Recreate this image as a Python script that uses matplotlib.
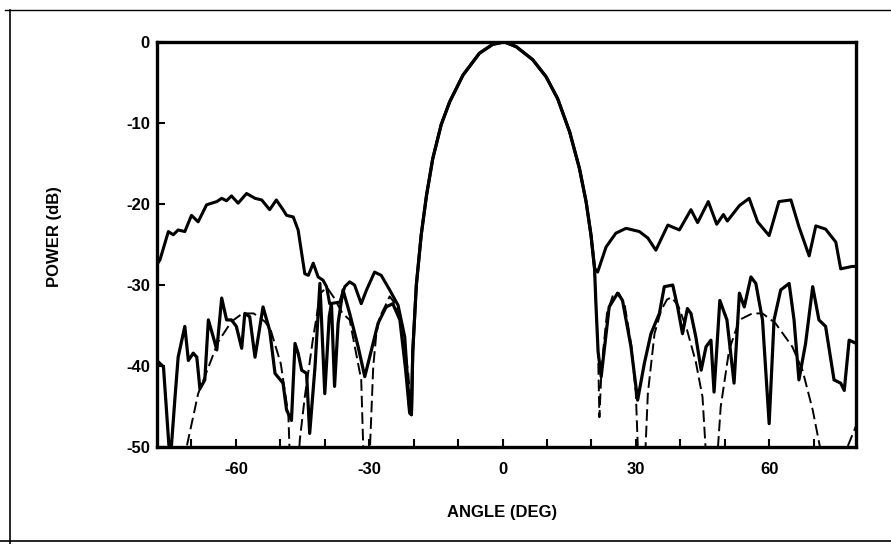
import numpy as np
import matplotlib
matplotlib.use("Agg")
import matplotlib.pyplot as plt
from matplotlib.lines import Line2D

plt.rcParams['font.family'] = ['Liberation Sans', 'DejaVu Sans']
plt.rcParams['axes.unicode_minus'] = False

# main beam, shared by all three patterns (deg, dB)
beam_ang = [-20.5, -20.2, -19.4, -18.3, -17.1, -15.7, -13.8, -11.9, -8.9, -5.2,
            -2.2, 0.4, 3.1, 6.8, 9.8, 12.4, 15.1, 17.3, 18.8, 19.9, 20.7]
beam_db = [-46.0, -38.2, -30.0, -23.8, -18.9, -14.4, -10.2, -7.4, -4.1, -1.4,
           -0.3, 0.0, -0.6, -2.2, -4.3, -7.0, -11.1, -15.6, -19.7, -23.8, -27.9]
# right flank of the beam below -28 dB (lower solid and dashed)
tail_ang = [21.0, 21.5]
tail_db = [-32.1, -38.2]

# upper solid curve (high sidelobes)
upper_left_ang = [-77.8, -77.1, -75.2, -74.1, -73.0, -71.5, -70.0, -68.5, -66.6, -64.3,
                  -63.2, -62.1, -61.0, -59.5, -57.6, -55.7, -54.2, -52.4, -50.9, -49.4,
                  -48.6, -47.1, -46.0, -44.5, -43.7, -42.6, -41.5, -40.4, -39.6, -38.9,
                  -36.6, -35.5, -34.4, -33.3, -31.8, -30.6, -28.8, -27.3, -25.4, -23.5,
                  -22.0, -20.9]
upper_left_db = [-27.5, -26.9, -23.4, -23.8, -23.2, -23.4, -21.4, -22.2, -20.1, -19.7,
                 -19.3, -19.6, -19.0, -19.9, -18.7, -19.3, -19.5, -20.7, -19.5, -20.7,
                 -21.4, -21.6, -23.2, -28.6, -28.8, -27.3, -29.0, -29.4, -30.2, -32.3,
                 -32.1, -30.2, -29.6, -30.0, -32.3, -30.6, -28.4, -28.8, -30.6, -32.5,
                 -36.4, -45.4]
upper_right_ang = [21.4, 23.3, 25.5, 27.8, 30.8, 32.7, 34.5, 37.2, 39.8, 42.4,
                   43.9, 46.3, 48.2, 49.7, 50.6, 53.3, 55.5, 57.4, 60.0, 62.2,
                   64.9, 66.7, 69.0, 70.5, 72.7, 75.0, 76.1, 78.7, 79.6]
upper_right_db = [-28.4, -25.3, -23.6, -23.0, -23.4, -24.2, -25.7, -22.6, -23.2, -20.7,
                  -22.3, -19.7, -22.5, -21.3, -22.1, -20.2, -19.3, -22.2, -23.9, -19.7,
                  -19.5, -22.8, -26.4, -22.7, -23.1, -24.7, -28.0, -27.7, -27.7]

# lower solid curve
lower_left_ang = [-77.8, -76.3, -74.8, -73.7, -73.0, -71.5, -70.7, -69.6, -68.8, -68.1,
                  -67.0, -66.2, -65.1, -64.3, -63.2, -62.1, -61.0, -59.9, -58.7, -58.0,
                  -56.9, -55.7, -53.9, -52.4, -51.2, -49.4, -48.6, -47.5, -46.7, -46.0,
                  -45.2, -44.1, -43.4, -42.2, -41.1, -40.0, -39.0, -38.5, -37.8, -37.0,
                  -35.9, -34.4, -32.5, -31.0, -29.5, -28.0, -26.2, -24.7, -23.1, -21.8,
                  -20.9]
lower_left_db = [-39.3, -40.1, -52.0, -43.8, -38.9, -35.1, -39.3, -38.4, -38.9, -42.8,
                 -41.7, -34.3, -36.4, -38.0, -31.6, -34.3, -34.3, -35.1, -37.8, -33.5,
                 -33.9, -38.9, -32.7, -35.6, -40.9, -42.1, -45.4, -46.7, -37.2, -38.4,
                 -40.5, -40.9, -48.3, -40.1, -29.8, -43.4, -33.9, -32.3, -42.5, -34.7,
                 -30.6, -33.5, -37.6, -41.3, -38.0, -34.7, -32.7, -32.3, -34.3, -40.5,
                 -45.8]
lower_right_ang = [22.2, 24.0, 25.9, 27.0, 28.9, 30.4, 31.9, 33.4, 35.3, 36.4,
                   38.3, 39.4, 40.5, 41.6, 42.4, 43.5, 44.7, 45.8, 46.9, 47.6,
                   48.9, 50.5, 52.1, 53.3, 54.4, 55.9, 57.0, 58.5, 60.0, 61.1,
                   62.6, 64.5, 65.6, 66.7, 68.2, 69.8, 71.2, 72.7, 74.6, 76.1,
                   76.9, 78.0, 79.6]
lower_right_db = [-41.3, -32.7, -31.0, -31.9, -37.6, -44.2, -39.7, -36.0, -33.5, -30.2,
                  -30.0, -32.7, -36.0, -32.9, -33.5, -36.4, -40.5, -37.6, -36.8, -43.2,
                  -31.9, -34.3, -42.1, -31.0, -32.7, -29.0, -29.8, -34.3, -47.1, -34.3,
                  -30.6, -29.8, -34.3, -41.7, -37.2, -30.2, -34.3, -35.1, -41.7, -42.1,
                  -43.0, -36.8, -37.2]

# dashed curve (ideal pattern)
dash_left_ang = [-72.0, -71.1, -68.5, -67.0, -64.0, -61.0, -58.5, -56.0, -53.5, -52.2,
                 -49.9, -48.2, -47.2, -45.6, -44.5, -42.7, -41.0, -39.5, -38.0, -36.0,
                 -34.4, -31.8, -30.7, -29.1, -28.4, -27.6, -26.5, -25.4, -23.9, -22.3,
                 -21.2]
dash_left_db = [-62.0, -50.0, -43.4, -41.3, -37.0, -34.5, -33.5, -33.5, -34.5, -35.5,
                -39.7, -46.0, -62.0, -49.0, -43.8, -36.8, -31.0, -30.3, -31.5, -33.5,
                -34.3, -41.7, -62.0, -40.1, -36.0, -33.9, -32.7, -31.4, -32.5, -36.5,
                -41.0]
dash_right_ang = [21.8, 22.3, 23.5, 25.0, 26.2, 27.5, 29.0, 30.0, 31.25, 32.7,
                  34.2, 35.7, 37.0, 38.0, 39.5, 41.5, 43.5, 45.0, 47.0, 49.1,
                  51.0, 53.3, 56.2, 58.5, 61.4, 65.2, 67.5, 69.8, 71.8, 73.5,
                  76.5, 77.6, 79.6]
dash_right_db = [-46.3, -40.0, -33.5, -31.0, -31.0, -32.5, -37.5, -43.4, -62.0, -43.4,
                 -36.0, -33.1, -31.8, -31.5, -32.5, -35.5, -39.5, -43.8, -62.0, -45.0,
                 -38.0, -34.3, -33.5, -33.5, -34.7, -37.6, -40.5, -45.4, -51.0, -65.0,
                 -65.0, -50.0, -47.3]

x_ticks = [-60, -30, 0, 30, 60]
y_ticks = [0, -10, -20, -30, -40, -50]

upper_x = upper_left_ang + beam_ang + upper_right_ang
upper_y = upper_left_db + beam_db + upper_right_db
lower_x = lower_left_ang + beam_ang + tail_ang + lower_right_ang
lower_y = lower_left_db + beam_db + tail_db + lower_right_db
dash_x = dash_left_ang + beam_ang + tail_ang + dash_right_ang
dash_y = dash_left_db + beam_db + tail_db + dash_right_db

fig = plt.figure(figsize=(8.91, 5.44), dpi=100)
ax = fig.add_axes([0.176, 0.178, 0.785, 0.745])

ax.plot(dash_x, dash_y, color='black', lw=1.4, linestyle=(0, (6, 2.5)))
ax.plot(lower_x, lower_y, color='black', lw=2.3, solid_joinstyle='round')
ax.plot(upper_x, upper_y, color='black', lw=2.2, solid_joinstyle='round')

ax.set_xlim(-77.8, 79.6)
ax.set_ylim(-50, 0)
ax.set_xticks(x_ticks)
ax.set_xticks(np.arange(-70, 80, 10), minor=True)
ax.set_yticks(y_ticks)
ax.tick_params(axis='x', which='both', direction='in', length=6, width=1.5,
               pad=10.5, labelsize=12, top=False)
ax.tick_params(axis='y', direction='in', length=6, width=1.5, pad=5,
               labelsize=12, right=False)
for lbl in ax.get_xticklabels() + ax.get_yticklabels():
    lbl.set_fontweight('bold')

for spine in ax.spines.values():
    spine.set_linewidth(2.4)

ax.set_xlabel('ANGLE (DEG)', fontsize=12, fontweight='bold')
ax.set_ylabel('POWER (dB)', fontsize=12, fontweight='bold')
ax.xaxis.set_label_coords(0.493, -0.143)
ax.yaxis.set_label_coords(-0.136, 0.52)

# scan frame around the figure
fig.add_artist(Line2D([10 / 891, 10 / 891], [0.0, 1 - 10 / 544], color='black', lw=1.2))
fig.add_artist(Line2D([5 / 891, 1.0], [1 - 10 / 544, 1 - 10 / 544], color='black', lw=1.0))
fig.add_artist(Line2D([0.0, 1.0], [1 - 541 / 544, 1 - 541 / 544], color='black', lw=1.2))

fig.savefig('out.png', dpi=100)
